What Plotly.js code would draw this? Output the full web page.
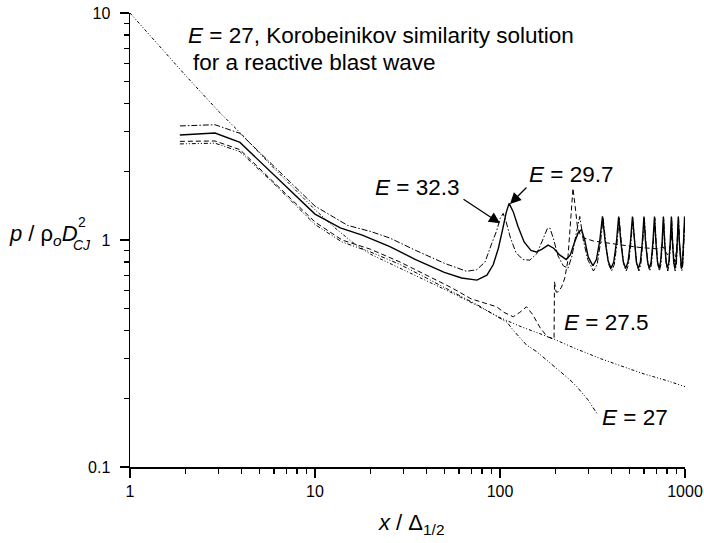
<!DOCTYPE html>
<html>
<head>
<meta charset="utf-8">
<script src="https://cdn.plot.ly/plotly-3.0.1.min.js"></script>
<style>html,body{margin:0;padding:0;background:#fff;}#chart{width:704px;height:543px;}</style>
</head>
<body>
<div id="chart"></div>
<script>
// Korobeinikov similarity solution (E = 27)
const korobX = [1, 1.5, 2, 3, 4, 6, 8, 10, 13, 16, 20, 30, 40, 55, 75, 100, 130, 160, 190, 250, 350, 445, 600, 800, 1000];
const korobY = [10, 6.9, 5.3, 3.7, 2.93, 2.07, 1.64, 1.36, 1.12, 0.975, 0.865, 0.74, 0.66, 0.585, 0.515, 0.455, 0.415, 0.39, 0.37, 0.335, 0.30, 0.28, 0.257, 0.24, 0.226];

// E = 32.3 (dash-dot)
const e323X = [1.86, 2.88, 3.93, 6, 10, 15, 20, 25.4, 35, 50, 60, 66, 75, 83, 90, 96, 100, 104, 108, 114, 122, 133, 145, 158, 170, 180, 186, 194, 206, 220, 233, 245, 257, 270, 282, 298, 320, 335, 349, 361, 373, 387, 401, 415, 429, 441, 453, 467, 481, 495, 510, 523, 535, 549, 563, 577, 591, 603, 615, 631, 645, 659, 674, 687, 699, 713, 727, 741, 755, 767, 779, 793, 807, 821, 835, 847, 859, 872, 885, 898, 911, 923, 935, 948, 961, 974, 987, 998, 1000];
const e323Y = [3.18, 3.22, 2.95, 2.12, 1.41, 1.16, 1.09, 1.02, 0.9, 0.79, 0.745, 0.728, 0.74, 0.8, 0.96, 1.1, 1.24, 1.31, 1.2, 1.02, 0.88, 0.82, 0.815, 0.87, 1.0, 1.12, 1.13, 1.02, 0.85, 0.77, 0.75, 0.85, 1.05, 1.27, 1.0, 0.82, 0.73, 0.78, 0.97, 1.25, 0.97, 0.78, 0.73, 0.78, 0.97, 1.25, 0.97, 0.78, 0.73, 0.78, 0.97, 1.25, 0.97, 0.78, 0.73, 0.78, 0.97, 1.25, 0.97, 0.78, 0.73, 0.78, 0.97, 1.25, 0.97, 0.78, 0.73, 0.78, 0.97, 1.25, 0.97, 0.78, 0.73, 0.78, 0.97, 1.25, 0.97, 0.78, 0.73, 0.78, 0.97, 1.25, 0.97, 0.78, 0.73, 0.78, 0.97, 1.25, 1.2];

// E = 29.7 (solid)
const e297X = [1.86, 2.88, 3.93, 6, 10, 13.7, 18, 25.4, 35, 50, 62, 75, 85, 92, 98, 103, 108, 112, 118, 125, 135, 147, 157, 168, 182, 195, 210, 228, 240, 252, 265, 276, 287, 300, 318, 332, 346, 358, 370, 384, 398, 412, 426, 438, 450, 464, 478, 492, 507, 520, 532, 546, 560, 574, 588, 600, 612, 628, 642, 656, 671, 684, 696, 710, 724, 738, 752, 764, 776, 790, 804, 818, 832, 844, 856, 869, 882, 895, 908, 920, 932, 945, 958, 971, 984, 995, 1000];
const e297Y = [2.90, 2.96, 2.69, 1.93, 1.3, 1.13, 1.05, 0.935, 0.82, 0.72, 0.68, 0.666, 0.70, 0.78, 0.92, 1.1, 1.32, 1.45, 1.33, 1.15, 0.98, 0.9, 0.885, 0.91, 0.95, 0.92, 0.86, 0.82, 0.86, 0.97, 1.08, 1.11, 1.0, 0.84, 0.77, 0.82, 0.99, 1.27, 0.99, 0.81, 0.75, 0.80, 0.98, 1.27, 0.98, 0.80, 0.75, 0.80, 0.98, 1.27, 0.98, 0.80, 0.75, 0.80, 0.98, 1.27, 0.98, 0.80, 0.75, 0.80, 0.98, 1.27, 0.98, 0.80, 0.75, 0.80, 0.98, 1.27, 0.98, 0.80, 0.75, 0.80, 0.98, 1.27, 0.98, 0.80, 0.75, 0.80, 0.98, 1.27, 0.98, 0.80, 0.75, 0.80, 0.98, 1.27, 1.1];

// E = 27.5 (dashed)
const e275X = [1.86, 2.88, 3.93, 6, 10, 14, 20, 28.8, 40, 55, 70, 78, 88, 96, 105, 118, 128, 139, 150, 165, 180, 194, 196, 197, 201, 206, 215, 224, 232, 240, 248, 255, 262, 272, 285, 320, 380, 450, 550, 640, 700, 764, 784, 804, 824, 844, 862, 882, 900, 920, 940, 958, 976, 995, 1000];
const e275Y = [2.72, 2.73, 2.5, 1.8, 1.2, 1.0, 0.91, 0.80, 0.70, 0.615, 0.55, 0.535, 0.52, 0.508, 0.48, 0.459, 0.48, 0.508, 0.47, 0.41, 0.375, 0.366, 0.37, 0.655, 0.59, 0.59, 0.62, 0.68, 0.8, 1.15, 1.69, 1.4, 1.15, 1.05, 1.02, 0.99, 0.97, 0.95, 0.93, 0.92, 0.915, 0.93, 0.9, 0.86, 0.9, 1.05, 0.9, 0.8, 0.9, 1.18, 0.9, 0.76, 0.9, 1.2, 1.1];

// E = 27 (fine dash-dot-dot)
const e27X = [1.86, 2.88, 3.93, 6, 10, 14, 20, 28.8, 40, 55, 78, 100, 109, 118, 139, 158, 194, 239, 260, 300, 334];
const e27Y = [2.65, 2.67, 2.45, 1.77, 1.17, 0.98, 0.885, 0.78, 0.68, 0.595, 0.51, 0.452, 0.435, 0.40, 0.345, 0.322, 0.28, 0.242, 0.226, 0.197, 0.172];

const xTickVals = [1, 10, 100, 1000];
const xTickText = ['1', '10', '100', '1000'];
const yTickVals = [0.1, 1, 10];
const yTickText = ['0.1', '1', '10'];

const FONT = '"Liberation Sans", Arial, Helvetica, sans-serif';

function tr(x, y, width, dash) {
  return {x: x, y: y, type: 'scatter', mode: 'lines', hoverinfo: 'skip',
          line: {color: 'black', width: width, dash: dash}};
}

const data = [
  tr(korobX, korobY, 1.0, '3px,2px,1px,2px,1px,2px'),
  tr(e323X, e323Y, 1.0, '6px,2px,1.5px,2px'),
  tr(e297X, e297Y, 1.4, 'solid'),
  tr(e275X, e275Y, 1.0, '5px,3px'),
  tr(e27X, e27Y, 1.0, '4px,2px,1px,2px,1px,2px')
];

function axis(range, tv, tt, standoff) {
  return {
    type: 'log', range: range, tickmode: 'array', tickvals: tv, ticktext: tt,
    ticks: 'outside', ticklen: 9, tickwidth: 1.5, tickcolor: 'black',
    showline: true, linecolor: 'black', linewidth: 1.5, mirror: false,
    showgrid: false, zeroline: false, ticklabelstandoff: standoff,
    tickfont: {family: FONT, size: 16, color: 'black'},
    minor: {ticks: 'outside', ticklen: 5, tickwidth: 1.3, tickcolor: 'black', dtick: 'D1', showgrid: false}
  };
}

function lab(text, x, y, size) {
  return {xref: 'paper', yref: 'paper', x: x, y: y, xanchor: 'left', yanchor: 'middle',
          text: text, showarrow: false, font: {family: FONT, size: size, color: 'black'}};
}
function arrow(x, y, ax, ay) {
  return {xref: 'paper', yref: 'paper', x: x, y: y, ax: ax, ay: ay, text: '',
          showarrow: true, arrowhead: 2, arrowsize: 1.7, arrowwidth: 1.3, arrowcolor: 'black'};
}
// pixel -> paper helpers (plot area: left 130, width 555, bottom 467, height 454)
function px(p) { return (p - 130) / 555; }
function py(p) { return (467 - p) / 454; }

const layout = {
  width: 704, height: 543,
  margin: {l: 130, r: 19, t: 13, b: 76},
  paper_bgcolor: 'white', plot_bgcolor: 'white',
  showlegend: false,
  font: {family: FONT, color: 'black'},
  xaxis: axis([0, 3], xTickVals, xTickText, 0),
  yaxis: axis([-1, 1], yTickVals, yTickText, 6),
  annotations: [
    lab('<i>E</i> = 27, Korobeinikov similarity solution', px(186), py(35), 22.5),
    lab('for a reactive blast wave', px(191), py(63), 22.5),
    lab('<i>E</i> = 32.3', px(373), py(187), 22.5),
    lab('<i>E</i> = 29.7', px(527), py(174), 22.5),
    lab('<i>E</i> = 27.5', px(562), py(322), 22.5),
    lab('<i>E</i> = 27', px(600), py(417), 22.5),
    arrow(px(500), py(223.3), -38, -25),
    arrow(px(510), py(204), 18, -18),
    lab('<i>p</i> / ρ<sub><i>o</i></sub><i>D</i>', px(7), py(235), 22),
    lab('2', px(76), py(222), 14),
    lab('<i>CJ</i>', px(71), py(245), 14),
    lab('<i>x</i> / Δ<sub>1/2</sub>', px(376), py(524), 22)
  ]
};

Plotly.newPlot('chart', data, layout, {staticPlot: true, displayModeBar: false});
</script>
</body>
</html>
